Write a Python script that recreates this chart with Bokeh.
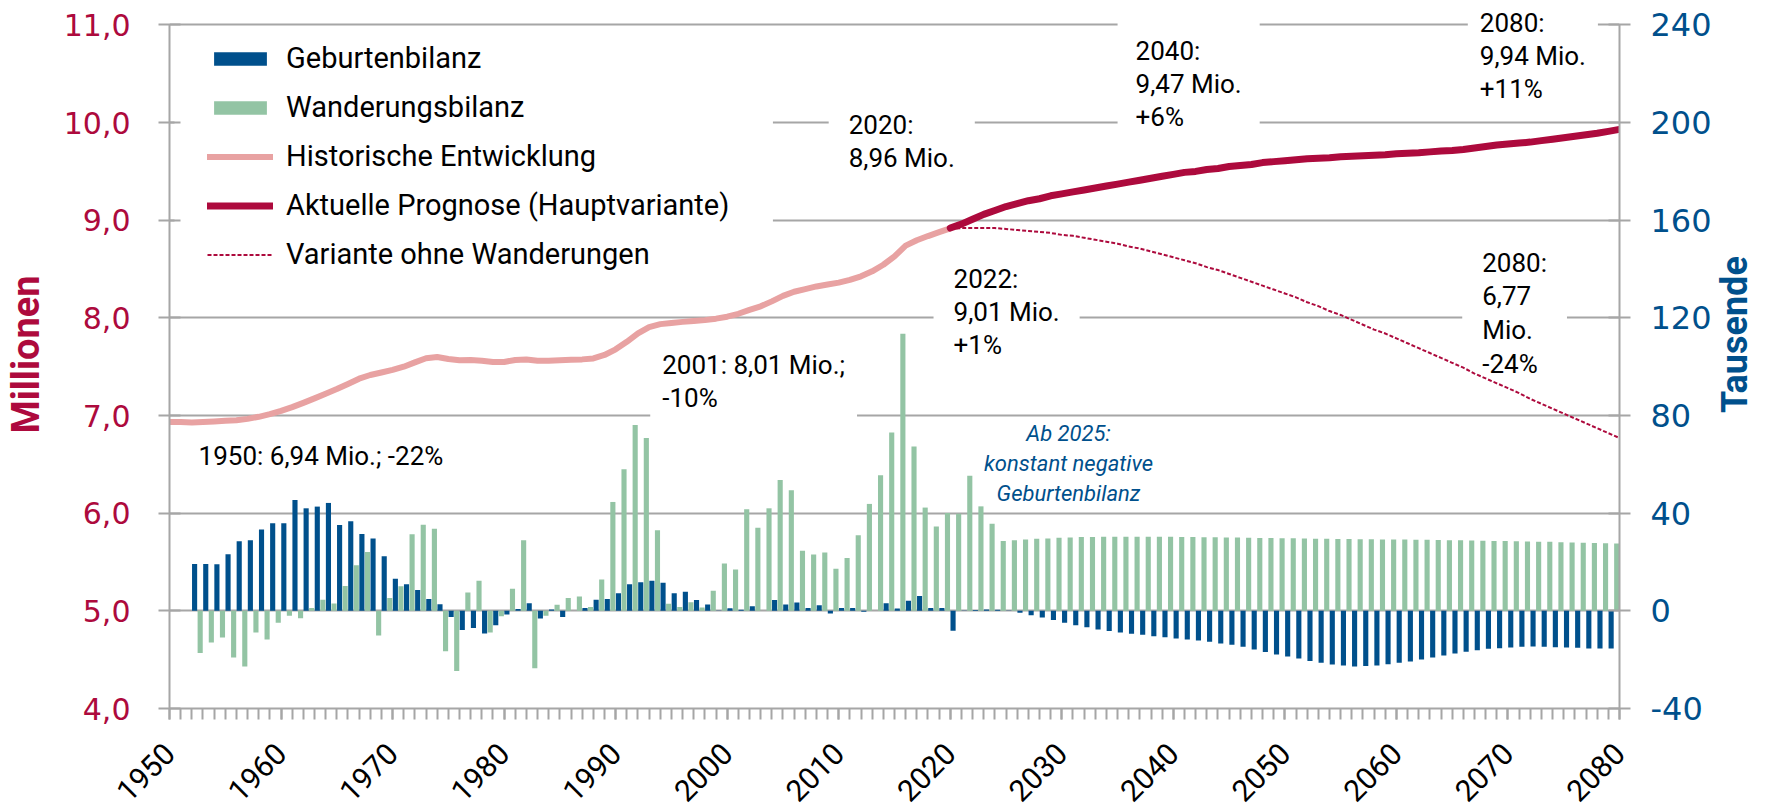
import math
from bokeh.plotting import figure
from bokeh.models import (Range1d, LinearAxis, FixedTicker, SingleIntervalTicker,
                          Legend, LegendItem, Label, BoxAnnotation, ColumnDataSource,
                          CustomJSTickFormatter)
from bokeh.transform import dodge
from bokeh.embed import file_html
from bokeh.resources import INLINE

# ---------------- data ----------------
years_hist = list(range(1950, 2021))
pop_hist = [6.935, 6.935, 6.928, 6.933, 6.940, 6.947, 6.952, 6.966, 6.987, 7.014,
            7.047, 7.086, 7.130, 7.176, 7.224, 7.271, 7.323, 7.377, 7.415, 7.441,
            7.467, 7.500, 7.544, 7.586, 7.599, 7.579, 7.566, 7.568, 7.562, 7.549,
            7.549, 7.569, 7.574, 7.562, 7.561, 7.565, 7.570, 7.575, 7.585, 7.620,
            7.678, 7.755, 7.841, 7.906, 7.936, 7.948, 7.959, 7.968, 7.977, 7.992,
            8.012, 8.042, 8.082, 8.118, 8.169, 8.225, 8.268, 8.295, 8.322, 8.341,
            8.361, 8.389, 8.426, 8.477, 8.544, 8.630, 8.740, 8.795, 8.838, 8.878,
            8.917]

years_prog = list(range(2020, 2081))
pop_prog = [8.92, 8.96, 9.01, 9.06, 9.10, 9.14, 9.17, 9.20, 9.22, 9.25,
            9.27, 9.29, 9.31, 9.33, 9.35, 9.37, 9.39, 9.41, 9.43, 9.45,
            9.47, 9.49, 9.50, 9.52, 9.53, 9.55, 9.56, 9.57, 9.59, 9.60,
            9.61, 9.62, 9.63, 9.635, 9.64, 9.65, 9.655, 9.66, 9.665, 9.67,
            9.68, 9.685, 9.69, 9.70, 9.71, 9.715, 9.725, 9.74, 9.755, 9.77,
            9.78, 9.79, 9.80, 9.815, 9.83, 9.845, 9.86, 9.875, 9.89, 9.91,
            9.93]

years_var = list(range(2020, 2081))
pop_var = [8.91, 8.92, 8.92, 8.92, 8.92, 8.91, 8.90, 8.89, 8.88, 8.87,
           8.85, 8.84, 8.82, 8.80, 8.78, 8.76, 8.73, 8.71, 8.68, 8.65,
           8.62, 8.59, 8.56, 8.52, 8.49, 8.45, 8.41, 8.37, 8.33, 8.29,
           8.25, 8.21, 8.16, 8.12, 8.07, 8.03, 7.98, 7.93, 7.88, 7.84,
           7.79, 7.74, 7.69, 7.64, 7.59, 7.54, 7.49, 7.43, 7.38, 7.33,
           7.28, 7.23, 7.17, 7.12, 7.07, 7.02, 6.97, 6.92, 6.87, 6.82,
           6.77]

bar_years = list(range(1952, 2080))
geburten = [19.2, 19.2, 19.1, 23.2, 28.5, 28.9, 33.3, 35.9,                # 1952-1959
            35.9, 45.4, 42.0, 42.7, 44.2, 35.2, 36.7, 31.5, 29.6, 22.4,    # 1960-1969
            13.1, 10.9, 8.5, 4.9, 2.7, -2.5, -7.8, -7.0, -9.3, -5.9,       # 1970-1979
            -1.5, 0.8, 3.1, -3.1, 0.5, -2.5, 0.0, 1.2, 4.5, 4.9,           # 1980-1989
            7.2, 10.9, 11.7, 12.3, 11.5, 7.2, 7.8, 4.4, 2.6, 0.1,          # 1990-1999
            1.1, 0.4, 1.9, 0.0, 4.4, 2.6, 3.4, 1.2, 2.3, -1.1,             # 2000-2009
            1.2, 1.2, -0.4, 0.0, 3.1, 1.0, 4.1, 6.1, 1.2, 1.2,             # 2010-2019
            -8.2, -0.1, 0.3, 0.5, 0.4, 0.1, -0.8, -1.8, -2.7, -3.8,        # 2020-2029
            -4.9, -5.9, -6.7, -7.6, -8.3, -8.9, -9.4, -9.8, -10.4, -10.8,  # 2030-2039
            -11.3, -11.7, -12.1, -12.7, -13.4, -13.9, -14.7, -15.8, -16.9, -17.9,  # 2040-2049
            -18.7, -19.5, -20.5, -21.3, -22.0, -22.4, -22.8, -22.6, -22.4, -21.9,  # 2050-2059
            -21.3, -20.7, -19.9, -19.1, -18.3, -17.5, -16.8, -16.1, -15.5, -15.3,  # 2060-2069
            -15.0, -14.7, -14.6, -14.7, -14.9, -15.0, -15.1, -15.4, -15.4, -15.4]  # 2070-2079
wanderung = [-17.3, -13.0, -10.9, -19.1, -22.8, -8.9, -11.7, -4.9,         # 1952-1959
             -2.0, -3.0, 1.2, 4.5, 3.0, 10.2, 18.7, 24.1, -10.1, 5.3,      # 1960-1969
             10.1, 31.4, 35.3, 33.6, -16.6, -24.6, 7.5, 12.3, -8.9, -2.2,  # 1970-1979
             9.0, 28.9, -23.5, -2.0, 2.5, 5.3, 5.9, 1.6, 12.8, 44.6,       # 1980-1989
             58.0, 76.1, 70.8, 33.0, 2.9, 1.6, 3.5, 1.4, 8.2, 19.4,        # 1990-1999
             16.9, 41.6, 34.0, 42.0, 53.6, 49.4, 24.6, 23.1, 23.9, 17.2,   # 2000-2009
             21.6, 31.0, 43.8, 55.5, 73.0, 113.5, 67.3, 42.3, 34.5, 40.1,  # 2010-2019
             39.8, 55.3, 42.8, 35.7, 28.6, 28.9, 29.2, 29.5, 29.6, 29.9,   # 2020-2029
             30.0, 30.2, 30.2, 30.3, 30.4, 30.4, 30.4, 30.3, 30.3, 30.3,   # 2030-2039
             30.2, 30.2, 30.1, 30.1, 30.0, 30.0, 29.9, 29.8, 29.8, 29.7,   # 2040-2049
             29.7, 29.6, 29.5, 29.5, 29.4, 29.4, 29.3, 29.3, 29.2, 29.2,   # 2050-2059
             29.2, 29.1, 29.1, 29.0, 28.9, 28.9, 28.8, 28.7, 28.6, 28.6,   # 2060-2069
             28.5, 28.4, 28.3, 28.3, 28.1, 28.0, 27.9, 27.8, 27.7, 27.6]   # 2070-2079

left_ticks = [4, 5, 6, 7, 8, 9, 10, 11]
right_ticks = [-40, 0, 40, 80, 120, 160, 200, 240]

# ---------------- style ----------------
BLUE = "#00508C"
GREEN = "#93C4A4"
PINK = "#E8A2A2"
CRIMSON = "#AD0A3D"
GRID = "#A6A6A6"
TXT_FONT = "Roboto"
AX_FONT = "DejaVu Sans"

# frame reaches a little above 11,0 so the top-right note is not clipped
p = figure(x_range=Range1d(1950, 2080), y_range=Range1d(4, 11.25),
           frame_width=1450, frame_height=708,
           min_border_left=165, min_border_right=150, min_border_top=0, min_border_bottom=99,
           output_backend="svg", toolbar_location=None)
p.extra_y_ranges = {"k": Range1d(-40, 250)}
p.outline_line_color = None
p.background_fill_color = "white"
p.border_fill_color = "white"

p.xgrid.visible = False
p.ygrid.ticker = FixedTicker(ticks=left_ticks)
p.ygrid.grid_line_color = GRID
p.ygrid.grid_line_width = 2

# legend mask (hides gridlines behind the legend)
p.add_layout(BoxAnnotation(left=1950.45, right=2004.1, top=10.9, bottom=8.45,
                           fill_color="white", fill_alpha=1, line_color=None,
                           level="underlay"))

# ---------------- annotations (white boxes hide gridlines) ----------------
def ann(text, x, y, pad, size="26px", color="black", style="normal", align="left", lh=1.1):
    p.add_layout(Label(x=x, y=y, text=text, text_align=align, text_baseline="top",
                       text_font=TXT_FONT, text_font_size=size, text_color=color,
                       text_font_style=style, text_line_height=lh,
                       background_fill_color="white", background_fill_alpha=1,
                       padding=pad, level="underlay"))

ann("1950: 6,94 Mio.; -22%", 1952.25, 6.78, 4)
ann("2001: 8,01 Mio.;\n-10%", 1993.1, 7.79, 12)
ann("2020:\n8,96 Mio.", 2009.1, 10.335, 20)
ann("2040:\n9,47 Mio.\n+6%", 2035.0, 11.07, 18)
ann("2080:\n9,94 Mio.\n+11%", 2066.4, 11.30, 12)
ann("2022:\n9,01 Mio.\n+1%", 2018.5, 8.755, 20)
ann("2080:\n6,77\nMio.\n-24%", 2065.9, 8.925, 20, lh=1.13)
ann("Ab 2025:\nkonstant negative\nGeburtenbilanz", 2030.6, 6.98, 4,
    size="22px", color=BLUE, style="italic", align="center", lh=1.2)

# ---------------- glyphs ----------------
src = ColumnDataSource(dict(year=bar_years, geb=geburten, wan=wanderung))
r_geb = p.vbar(x=dodge("year", 0.25), top="geb", bottom=0, width=0.46, source=src,
               y_range_name="k", fill_color=BLUE, line_color=None)
r_wan = p.vbar(x=dodge("year", 0.75), top="wan", bottom=0, width=0.46, source=src,
               y_range_name="k", fill_color=GREEN, line_color=None)

r_hist = p.line(years_hist, pop_hist, line_color=PINK, line_width=6,
                line_cap="round", line_join="round")
r_var = p.line(years_var, pop_var, line_color=CRIMSON, line_width=2, line_dash="4 2")
r_prog = p.line(years_prog, pop_prog, line_color=CRIMSON, line_width=7,
                line_cap="round", line_join="round")

# ---------------- axes ----------------
xa = p.xaxis[0]
xa.ticker = SingleIntervalTicker(interval=10, num_minor_ticks=10)
xa.major_label_orientation = math.pi / 4
xa.major_label_text_font = TXT_FONT
xa.major_label_text_font_size = "30px"
xa.major_label_text_color = "black"
xa.major_label_standoff = 29
xa.axis_line_color = GRID
xa.axis_line_width = 2
xa.major_tick_line_color = GRID
xa.major_tick_line_width = 2
xa.major_tick_out = 11
xa.major_tick_in = 0
xa.minor_tick_line_color = GRID
xa.minor_tick_line_width = 2
xa.minor_tick_out = 11
xa.minor_tick_in = 0

ya = p.yaxis[0]
ya.ticker = FixedTicker(ticks=left_ticks)
ya.bounds = (4, 11)
ya.formatter = CustomJSTickFormatter(code="return tick.toFixed(1).replace('.', ',');")
ya.major_label_text_font = AX_FONT
ya.major_label_text_font_size = "30px"
ya.major_label_text_color = CRIMSON
ya.major_label_standoff = 28
ya.axis_line_color = GRID
ya.axis_line_width = 2
ya.major_tick_line_color = GRID
ya.major_tick_line_width = 2
ya.major_tick_out = 11
ya.major_tick_in = 11
ya.minor_tick_line_color = None
ya.axis_label = "Millionen"
ya.axis_label_text_font = TXT_FONT
ya.axis_label_text_font_size = "38px"
ya.axis_label_text_font_style = "bold"
ya.axis_label_text_color = CRIMSON
ya.axis_label_standoff = 13

ra = LinearAxis(y_range_name="k", ticker=FixedTicker(ticks=right_ticks), bounds=(-40, 240))
ra.formatter = CustomJSTickFormatter(code="return tick.toFixed(0);")
ra.major_label_text_font = AX_FONT
ra.major_label_text_font_size = "32px"
ra.major_label_text_color = BLUE
ra.major_label_standoff = 20
ra.axis_line_color = GRID
ra.axis_line_width = 2
ra.major_tick_line_color = GRID
ra.major_tick_line_width = 2
ra.major_tick_out = 11
ra.major_tick_in = 11
ra.minor_tick_line_color = None
p.add_layout(ra, "right")

# second (tick-less) right axis carries the title "Tausende", reading bottom-to-top;
# its single invisible tick marks where the title text starts
rt = LinearAxis(y_range_name="k", ticker=FixedTicker(ticks=[81]))
rt.formatter = CustomJSTickFormatter(code="return 'Tausende';")
rt.axis_line_color = None
rt.major_tick_line_color = None
rt.minor_tick_line_color = None
rt.major_tick_out = 0
rt.major_tick_in = 0
rt.minor_tick_out = 0
rt.minor_tick_in = 0
rt.major_label_orientation = math.pi / 2
rt.major_label_text_font = TXT_FONT
rt.major_label_text_font_size = "36px"
rt.major_label_text_font_style = "bold"
rt.major_label_text_color = BLUE
rt.major_label_standoff = 21
p.add_layout(rt, "right")

# ---------------- legend ----------------
legend = Legend(items=[
    LegendItem(label="Geburtenbilanz", renderers=[r_geb]),
    LegendItem(label="Wanderungsbilanz", renderers=[r_wan]),
    LegendItem(label="Historische Entwicklung", renderers=[r_hist]),
    LegendItem(label="Aktuelle Prognose (Hauptvariante)", renderers=[r_prog]),
    LegendItem(label="Variante ohne Wanderungen", renderers=[r_var]),
], location=(38, 437))
legend.background_fill_alpha = 0
legend.border_line_color = None
legend.padding = 10
legend.spacing = 15
legend.glyph_width = 66
legend.glyph_height = 17
legend.label_standoff = 13
legend.label_text_font = TXT_FONT
legend.label_text_font_size = "29px"
legend.label_text_color = "black"
p.add_layout(legend, "center")

open("out.html", "w").write(file_html(p, INLINE))
